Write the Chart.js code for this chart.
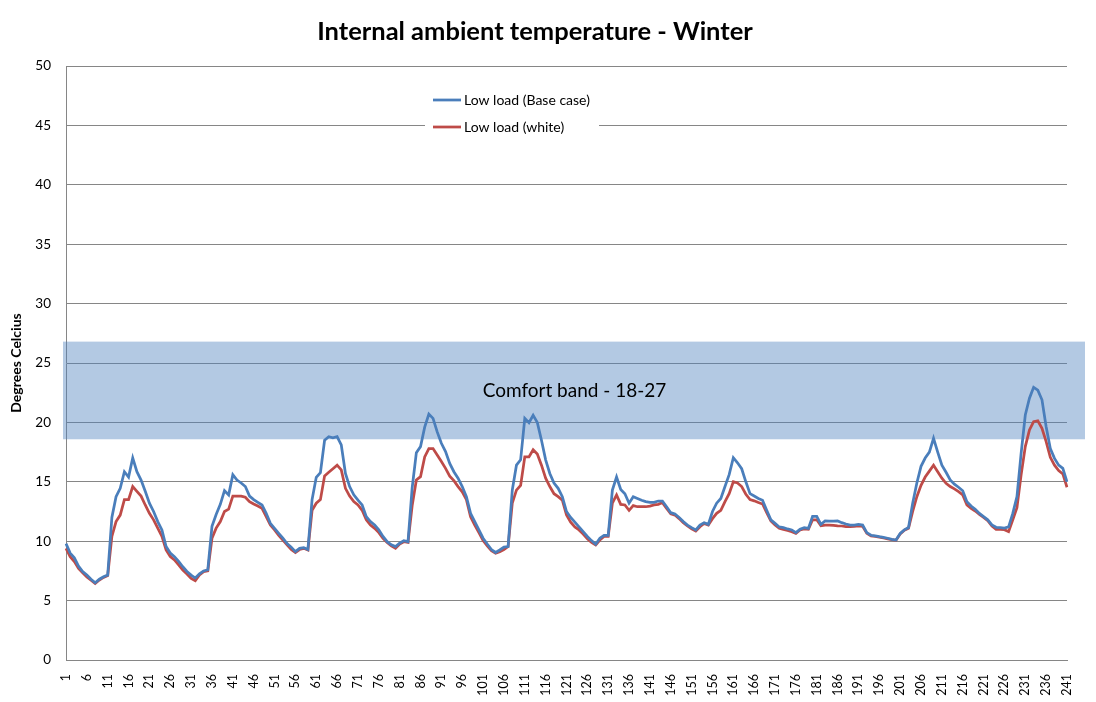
<!DOCTYPE html>
<html><head><meta charset="utf-8">
<script src="https://cdn.jsdelivr.net/npm/chart.js@4.4.1/dist/chart.umd.min.js"></script>
<style>html,body{margin:0;padding:0;background:#fff;}#wrap{width:1096px;height:702px;position:relative;}</style>
</head><body><div id="wrap"><canvas id="c" width="1096" height="702"></canvas></div>
<script>
const chartTitle = 'Internal ambient temperature - Winter';
const yAxisTitle = 'Degrees Celcius';
const seriesNames = ['Low load (Base case)', 'Low load (white)'];
const categoryCount = 241;
const categories = Array.from({length: categoryCount}, (_, i) => String(i + 1));
const tickEvery = 5;
const yMin = 0, yMax = 50, yStep = 5;
const comfortLow = 18.58, comfortHigh = 26.8;
const comfortLabel = 'Comfort band - 18-27';

const baseCase = [
  9.8, 9.0, 8.6, 7.9, 7.45, 7.15, 6.8, 6.5, 6.8, 7.0,
  7.15, 12.0, 13.75, 14.45, 15.85, 15.4, 17.0, 15.85, 15.15, 14.2,
  13.2, 12.5, 11.65, 10.95, 9.55, 9.0, 8.7, 8.3, 7.85, 7.45,
  7.15, 6.9, 7.25, 7.5, 7.6, 11.25, 12.25, 13.1, 14.25, 13.9,
  15.6, 15.15, 14.9, 14.6, 13.8, 13.5, 13.27, 13.05, 12.35, 11.5,
  11.08, 10.66, 10.25, 9.8, 9.5, 9.12, 9.4, 9.45, 9.3, 13.5,
  15.38, 15.77, 18.5, 18.8, 18.7, 18.8, 18.1, 15.7, 14.6, 13.9,
  13.45, 13.05, 12.06, 11.65, 11.36, 10.95, 10.4, 9.96, 9.7, 9.55,
  9.83, 10.05, 9.96, 14.5, 17.45, 17.96, 19.6, 20.7, 20.34, 19.2,
  18.24, 17.54, 16.55, 15.85, 15.3, 14.6, 13.75, 12.35, 11.65, 10.95,
  10.25, 9.76, 9.3, 9.05, 9.26, 9.5, 9.55, 14.3, 16.4, 16.85,
  20.34, 19.98, 20.6, 20.0, 18.5, 16.85, 15.7, 14.9, 14.45, 13.75,
  12.5, 12.0, 11.6, 11.2, 10.8, 10.4, 10.05, 9.74, 10.25, 10.5,
  10.5, 14.3, 15.4, 14.35, 14.0, 13.2, 13.75, 13.6, 13.45, 13.33,
  13.27, 13.27, 13.38, 13.38, 12.9, 12.4, 12.3, 12.0, 11.65, 11.36,
  11.14, 10.95, 11.36, 11.56, 11.42, 12.5, 13.2, 13.6, 14.6, 15.6,
  17.03, 16.6, 16.1, 15.0, 14.0, 13.8, 13.6, 13.45, 12.6, 11.8,
  11.5, 11.2, 11.14, 11.03, 10.95, 10.72, 11.0, 11.14, 11.08, 12.1,
  12.1, 11.42, 11.7, 11.68, 11.68, 11.7, 11.56, 11.45, 11.36, 11.36,
  11.42, 11.36, 10.72, 10.5, 10.45, 10.38, 10.32, 10.25, 10.15, 10.1,
  10.65, 10.95, 11.15, 13.2, 14.9, 16.3, 17.0, 17.5, 18.66, 17.5,
  16.4, 15.8, 15.15, 14.8, 14.54, 14.25, 13.33, 12.96, 12.68, 12.34,
  12.07, 11.8, 11.37, 11.17, 11.14, 11.1, 11.2, 12.34, 13.75, 17.4,
  20.62, 22.03, 22.95, 22.72, 21.9, 19.64, 17.8, 16.97, 16.4, 16.13,
  15.0
];

const whiteCase = [
  9.4, 8.7, 8.28, 7.72, 7.35, 7.0, 6.73, 6.45, 6.73, 6.95,
  7.1, 10.4, 11.65, 12.2, 13.5, 13.5, 14.6, 14.2, 13.8, 13.05,
  12.35, 11.8, 11.1, 10.4, 9.26, 8.7, 8.42, 8.0, 7.57, 7.24,
  6.87, 6.67, 7.15, 7.44, 7.5, 10.25, 11.1, 11.65, 12.5, 12.7,
  13.8, 13.8, 13.8, 13.7, 13.33, 13.13, 12.96, 12.76, 12.06, 11.36,
  10.95, 10.5, 10.1, 9.7, 9.3, 9.05, 9.3, 9.4, 9.26, 12.6,
  13.2, 13.5, 15.5, 15.8, 16.1, 16.4, 16.0, 14.45, 13.8, 13.33,
  13.05, 12.6, 11.8, 11.36, 11.08, 10.72, 10.25, 9.9, 9.6, 9.4,
  9.77, 9.96, 9.9, 13.0, 15.15, 15.43, 17.1, 17.8, 17.8, 17.25,
  16.7, 16.13, 15.48, 15.1, 14.6, 14.16, 13.5, 12.06, 11.36, 10.72,
  10.05, 9.6, 9.2, 8.98, 9.12, 9.3, 9.55, 13.2, 14.3, 14.7,
  17.1, 17.1, 17.7, 17.34, 16.4, 15.3, 14.6, 14.0, 13.75, 13.45,
  12.2, 11.6, 11.2, 10.95, 10.6, 10.2, 9.9, 9.68, 10.1, 10.4,
  10.4, 13.2, 13.9, 13.1, 13.05, 12.6, 13.0, 12.9, 12.9, 12.9,
  12.96, 13.05, 13.1, 13.25, 12.76, 12.3, 12.2, 11.9, 11.56, 11.28,
  11.05, 10.85, 11.22, 11.5, 11.36, 11.9, 12.35, 12.6, 13.33, 14.0,
  15.0, 14.9, 14.6, 13.95, 13.5, 13.4, 13.25, 13.13, 12.4, 11.7,
  11.36, 11.1, 11.0, 10.9, 10.8, 10.66, 10.95, 11.03, 11.0, 11.8,
  11.8, 11.3, 11.36, 11.36, 11.33, 11.3, 11.28, 11.22, 11.22, 11.25,
  11.28, 11.25, 10.66, 10.45, 10.4, 10.35, 10.27, 10.2, 10.13, 10.07,
  10.6, 10.92, 11.08, 12.5, 13.75, 14.7, 15.4, 15.9, 16.4, 15.85,
  15.3, 14.87, 14.6, 14.4, 14.17, 13.9, 13.05, 12.77, 12.54, 12.26,
  12.0, 11.72, 11.28, 11.0, 11.0, 10.97, 10.8, 11.8, 12.82, 15.58,
  17.96, 19.36, 20.06, 20.14, 19.5, 18.38, 17.06, 16.4, 15.95, 15.66,
  14.54
];

const seriesColors = ['#4A7EBB', '#BE4B48'];
const FONT = 'Lato, "Open Sans", sans-serif';

const comfortPlugin = {
  id: 'comfortBand',
  beforeDatasetsDraw(chart) {
    const {ctx, chartArea, scales: {y}} = chart;
    const top = y.getPixelForValue(comfortHigh);
    const bot = y.getPixelForValue(comfortLow);
    ctx.save();
    ctx.fillStyle = 'rgba(79,129,189,0.43)';
    ctx.fillRect(chartArea.left - 3, top, (chartArea.right + 18) - (chartArea.left - 3), bot - top);
    ctx.fillStyle = '#000';
    ctx.font = '19px ' + FONT;
    ctx.textAlign = 'center';
    ctx.textBaseline = 'middle';
    ctx.fillText(comfortLabel, chartArea.left + (chartArea.right - chartArea.left) * 0.508, top + (bot - top) * 0.5);
    ctx.restore();
  }
};

const legendPlugin = {
  id: 'innerLegend',
  afterDraw(chart) {
    const {ctx, chartArea} = chart;
    const x0 = chartArea.left + 359;
    const y0 = chartArea.top + 22;
    ctx.save();
    ctx.fillStyle = '#fff';
    ctx.fillRect(x0, y0, 174, 51);
    ctx.font = '14px ' + FONT;
    ctx.textAlign = 'left';
    ctx.textBaseline = 'middle';
    seriesNames.forEach((name, k) => {
      const cy = y0 + 12 + k * 27;
      ctx.strokeStyle = seriesColors[k];
      ctx.lineWidth = 2.75;
      ctx.beginPath();
      ctx.moveTo(x0 + 8, cy);
      ctx.lineTo(x0 + 36, cy);
      ctx.stroke();
      ctx.fillStyle = '#000';
      ctx.fillText(name, x0 + 39, cy);
    });
    ctx.restore();
  }
};

new Chart(document.getElementById('c'), {
  type: 'line',
  data: {
    labels: categories,
    datasets: [
      {label: seriesNames[0], data: baseCase, borderColor: seriesColors[0], borderWidth: 2.75, pointRadius: 0, tension: 0, fill: false},
      {label: seriesNames[1], data: whiteCase, borderColor: seriesColors[1], borderWidth: 2.75, pointRadius: 0, tension: 0, fill: false}
    ]
  },
  options: {
    responsive: false,
    animation: false,
    devicePixelRatio: 1,
    layout: {padding: {left: 0, right: 26, top: 0, bottom: 0}},
    plugins: {
      legend: {display: false},
      tooltip: {enabled: false},
      title: {
        display: true, text: chartTitle, color: '#000',
        font: {family: FONT, size: 25.5, weight: 'bold', lineHeight: 1.2},
        padding: {top: 16.7, bottom: 18.7}
      }
    },
    scales: {
      x: {
        type: 'category',
        offset: false,
        grid: {display: false, drawTicks: false},
        border: {display: true, color: '#868686', width: 1},
        ticks: {
          autoSkip: false, minRotation: 90, maxRotation: 90, padding: 14,
          color: '#000', font: {family: FONT, size: 12.5},
          callback: (v, i) => (i % tickEvery === 0 ? categories[i] : '')
        },
        afterFit: s => { s.height = 42; }
      },
      y: {
        min: yMin, max: yMax,
        grid: {color: '#868686', lineWidth: 1, drawTicks: false},
        border: {display: true, color: '#868686', width: 1},
        ticks: {stepSize: yStep, padding: 15, color: '#000', font: {family: FONT, size: 13.5}},
        title: {display: true, text: yAxisTitle, color: '#000', font: {family: FONT, size: 14, weight: 'bold'}, padding: {top: 8, bottom: 0}},
        afterFit: s => { s.width = 66; }
      }
    }
  },
  plugins: [comfortPlugin, legendPlugin]
});
</script></body></html>
